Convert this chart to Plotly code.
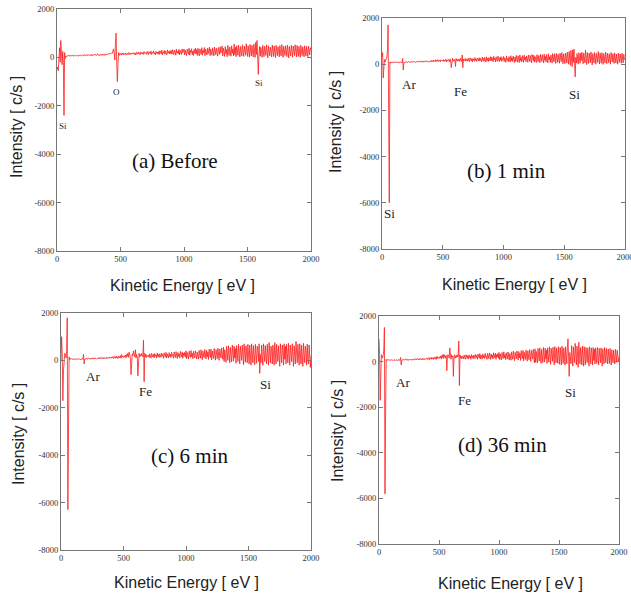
import plotly.graph_objects as go

# ---------------- data ----------------
energy_ev = list(range(0, 2001, 5))

before = [
    -500, -400, -550, 100, 400, -200, 700, 200, -300, 250, -200, -2400, 200, -50, 60, 40, 70, 50, 80, 60,
    75, 55, 90, 60, 80, 95, 50, 70, 85, 60, 75, 100, 65, 80, 55, 90, 70, 85, 60, 95,
    80, 110, 70, 95, 115, 65, 90, 105, 75, 120, 85, 70, 110, 95, 80, 125, 70, 100, 90, 115,
    95, 130, 80, 115, 140, 90, 105, 75, 125, 110, 85, 140, 100, 120, 80, 135, 110, 95, 145, 115,
    120, 150, 135, 170, 140, 160, 190, 170, 230, 350, 180, -100, 500, 1000, -200, -1000, -300, 200, 80, 150,
    120, 170, 100, 150, 190, 110, 160, 130, 180, 95, 150, 175, 120, 200, 140, 110, 185, 130, 165, 145,
    150, 200, 120, 175, 105, 210, 160, 130, 220, 145, 190, 110, 230, 170, 140, 200, 125, 240, 155, 180,
    200, 130, 250, 170, 110, 240, 190, 150, 260, 120, 210, 175, 270, 140, 195, 105, 250, 165, 220, 135,
    240, 120, 280, 190, 150, 300, 100, 230, 170, 290, 130, 260, 200, 110, 310, 180, 240, 140, 280, 160,
    280, 130, 320, 200, 110, 300, 240, 90, 340, 180, 260, 150, 330, 100, 290, 220, 120, 350, 190, 250,
    350, 100, 300, 180, 70, 340, 250, 130, 380, 90, 290, 200, 360, 110, 260, 80, 330, 170, 390, 140,
    320, 80, 380, 200, 60, 350, 260, 120, 400, 90, 300, 180, 410, 70, 340, 240, 100, 380, 150, 300,
    420, 70, 350, 250, 90, 400, 160, 60, 430, 280, 110, 380, 200, 50, 410, 300, 120, 440, 180, 330,
    470, 60, 380, 240, 40, 450, 150, 320, 30, 500, 200, 80, 430, 280, 50, 480, 170, 350, 60, 550,
    100, 420, 30, 480, 260, 80, 500, 160, 20, 450, 300, 60, 520, 180, 40, 470, 230, 90, 560, 150,
    40, 480, 200, 10, 530, 280, 60, 500, 150, 20, 550, 300, 0, 620, 120, 700, 250, -700, 100, 450,
    50, 420, 250, 0, 500, 180, 30, 460, 300, 80, 520, 150, -20, 480, 270, 60, 430, 200, 20, 510,
    300, 40, 470, 180, -10, 500, 230, 70, 440, 320, 20, 490, 160, 60, 530, 250, 0, 460, 200, 80,
    480, 280, 30, 510, 170, -20, 450, 300, 60, 500, 220, 10, 470, 150, 80, 520, 260, 20, 490, 190,
    40, 460, 310, 0, 500, 180, 70, 440, 260, 20, 480, 200, 60, 450, 120, 30, 470, 280, 100, 400,
    300,
]

min1 = [
    300, 500, -600, -200, 200, 100, 150, 250, 300, 600, 1700, -2400, -6000, 100, 40, 90, 70, 100, 60, 80,
    75, 95, 60, 85, 100, 70, 90, 65, 95, 80, 70, 100, 85, 60, 250, -250, 90, 70, 95, 80,
    85, 110, 70, 100, 115, 80, 95, 105, 75, 120, 90, 100, 80, 115, 95, 70, 110, 90, 120, 85,
    100, 135, 90, 120, 145, 95, 110, 130, 85, 140, 105, 120, 150, 95, 125, 100, 140, 115, 90, 135,
    150, 110, 170, 125, 95, 180, 140, 120, 190, 105, 160, 135, 200, 115, 150, 175, 100, 190, 140, 165,
    140, 200, 110, 180, 150, 220, 95, 170, 130, 210, 160, 100, 230, 140, -150, 200, 260, 120, 190, 150,
    210, -100, 240, 160, 130, 230, 150, 200, 120, 260, 170, 120, 400, -150, 230, 140, 200, 250, 130, 210,
    230, 130, 260, 170, 110, 280, 190, 140, 250, 100, 240, 200, 130, 290, 160, 220, 120, 270, 180, 150,
    280, 130, 250, 190, 100, 310, 170, 240, 120, 300, 200, 90, 320, 160, 260, 110, 290, 210, 140, 330,
    150, 300, 240, 100, 340, 180, 260, 90, 320, 200, 130, 350, 230, 110, 290, 170, 330, 120, 250, 190,
    340, 110, 280, 200, 80, 360, 170, 250, 100, 330, 230, 90, 370, 150, 290, 120, 350, 200, 70, 310,
    120, 380, 240, 90, 360, 200, 70, 400, 160, 290, 100, 370, 230, 80, 390, 180, 300, 110, 360, 220,
    80, 400, 260, 120, 380, 190, 60, 420, 230, 140, 390, 90, 330, 200, 70, 410, 270, 110, 380, 160,
    60, 430, 220, 120, 410, 280, 50, 440, 170, 330, 90, 420, 250, 60, 450, 190, 320, 80, 400, 230,
    50, 460, 240, 100, 450, 180, 30, 470, 290, 80, 430, 200, 40, 480, 260, 110, 500, 170, 20, 450,
    300, 30, 480, 200, 60, 520, 250, 0, 550, 150, -50, 600, 300, -100, 620, 80, 650, 200, -550, 300,
    50, 460, 200, 0, 500, 280, 40, 470, 150, 520, 250, 20, 480, 320, 60, 600, 180, -20, 500, 270,
    30, 480, 220, 70, 530, 160, -30, 460, 300, 50, 510, 240, 0, 470, 180, 80, 550, 260, 10, 480,
    200, 40, 500, 290, -10, 460, 170, 60, 520, 250, 20, 480, 310, 70, 450, 150, 0, 500, 230, 90,
    460, 180, 30, 490, 270, 50, 440, 200, 0, 480, 300, 80, 450, 150, 40, 470, 250, 60, 430, 200,
    250,
]

min6 = [
    0, 1000, 300, -1700, -400, 200, 300, 250, 100, 400, 1800, -6300, -2700, 150, 30, 70, 50, 80, 40, 60,
    45, 70, 30, 60, 75, 40, 55, 35, 70, 50, 60, 30, 65, 45, 75, 40, 250, -150, 60, 50,
    60, 95, 50, 80, 100, 65, 85, 45, 90, 70, 105, 55, 80, 95, 60, 100, 75, 50, 90, 85,
    80, 120, 65, 105, 130, 75, 95, 115, 60, 125, 90, 105, 70, 135, 100, 80, 120, 90, 140, 100,
    130, 90, 160, 110, 70, 170, 120, 90, 180, 105, 150, 80, 190, 130, 100, 200, 90, 250, 140, 180,
    120, 190, 150, 230, 100, 250, 170, 300, 130, 350, 200, 120, -600, 150, 280, 200, 400, 250, 150, 450,
    100, 250, 150, -650, 200, 300, 150, 250, 180, 300, 200, 150, 850, -900, 300, 150, 250, 120, 200, 170,
    230, 120, 280, 180, 90, 300, 200, 140, 260, 110, 290, 170, 230, 100, 310, 160, 250, 120, 280, 200,
    130, 310, 180, 250, 90, 320, 200, 140, 340, 110, 280, 220, 100, 330, 160, 260, 120, 350, 190, 240,
    90, 350, 200, 120, 370, 240, 80, 330, 170, 280, 100, 380, 220, 150, 360, 90, 300, 190, 340, 130,
    400, 80, 330, 210, 60, 390, 250, 120, 420, 150, 300, 70, 380, 200, 100, 410, 260, 60, 350, 180,
    50, 420, 270, 90, 450, 180, 30, 400, 300, 110, 460, 200, 60, 430, 150, 350, 40, 470, 250, 120,
    480, 20, 400, 260, 80, 500, 150, 10, 460, 320, 70, 520, 200, 0, 480, 350, 100, 530, 180, 40,
    560, -50, 450, 200, -80, 600, 300, 0, 620, 150, -100, 550, 350, -60, 650, 220, -30, 600, 100, 500,
    -120, 620, 300, -50, 680, 150, -150, 600, 380, 0, 650, 200, -180, 700, 250, -80, 620, 100, -100, 680,
    300, -150, 650, 150, -200, 700, 350, -100, 620, 50, -180, 680, 250, -120, 600, 400, -50, 700, -550, 250,
    -100, 650, 200, -200, 700, 350, -50, 620, 100, -150, 680, 300, -200, 750, 150, -100, 600, 400, -150, 650,
    250, -200, 750, 100, -150, 680, 350, -50, 620, 200, -250, 700, 150, -100, 650, 400, -200, 700, 50, 600,
    -150, 680, 300, -100, 720, 150, -200, 650, 400, -50, 700, 100, -250, 620, 300, -150, 800, 200, -100, 680,
    350, -200, 700, 100, -150, 650, 300, -250, 720, 150, -100, 600, 400, -200, 680, 50, -150, 650, 250, -300,
    200,
]

min36 = [
    1000, 300, -1700, 200, 300, 250, 150, 300, 500, 1500, -5800, -2200, 100, 50, 80, 60, 90, 50, 70, 60,
    60, 80, 50, 75, 55, 85, 65, 45, 80, 60, 70, 50, 85, 60, 75, 55, 180, -150, 70, 60,
    75, 100, 60, 90, 110, 65, 85, 105, 55, 95, 80, 110, 70, 90, 60, 105, 85, 75, 115, 90,
    90, 130, 75, 115, 140, 85, 105, 125, 70, 135, 100, 115, 80, 145, 95, 120, 85, 140, 110, 130,
    140, 95, 170, 120, 80, 180, 130, 100, 190, 115, 160, 90, 200, 140, 110, 210, 100, 230, 150, 180,
    130, 210, 160, 250, 110, 280, 180, 320, 140, 300, 200, 150, 280, -400, 200, 300, 250, 150, 600, 250,
    100, 300, 200, 250, -650, 200, 300, 150, 250, 180, 300, 200, 250, 900, -1050, 300, 150, 250, 120, 200,
    240, 120, 290, 180, 100, 300, 210, 140, 270, 110, 290, 180, 240, 100, 310, 170, 250, 130, 290, 200,
    130, 320, 190, 260, 100, 330, 210, 150, 350, 120, 290, 230, 110, 340, 170, 270, 130, 360, 200, 250,
    100, 360, 210, 130, 380, 250, 90, 340, 180, 290, 110, 390, 230, 160, 370, 100, 310, 200, 350, 140,
    400, 90, 340, 220, 70, 400, 260, 130, 430, 160, 310, 80, 390, 210, 110, 420, 270, 70, 360, 190,
    60, 430, 280, 100, 460, 190, 40, 410, 310, 120, 470, 210, 70, 440, 160, 360, 50, 480, 260, 130,
    490, 30, 410, 270, 90, 510, 160, 20, 470, 330, 80, 530, 210, 10, 490, 360, 110, 540, 190, -50,
    560, -30, 450, 210, -60, 580, 300, 20, 600, 160, -80, 540, 350, -40, 620, 230, -20, 590, 120, 500,
    -80, 600, 300, -30, 650, 160, -120, 580, 370, 10, 630, 210, -150, 660, 260, -60, 600, 110, -80, 650,
    300, -120, 620, 160, -150, 680, 340, -80, 600, 60, -150, 650, 250, -100, 620, 1000, 200, -650, 400, 150,
    -100, 700, 250, -200, 650, 350, -50, 800, 100, -150, 680, 300, -250, 850, 150, -100, 620, 400, -150, 680,
    250, -200, 650, 100, -150, 620, 350, -50, 600, 200, -200, 650, 150, -100, 600, 380, -150, 620, 50, 550,
    -100, 600, 280, -80, 620, 150, -150, 580, 350, -50, 600, 100, -200, 560, 280, -100, 620, 200, -50, 580,
    300, -100, 550, 120, -80, 580, 260, -150, 520, 150, -50, 500, 300, -100, 540, 80, -30, 500, 220, 0,
    200,
]

x_ticks = [0, 500, 1000, 1500, 2000]
x_tick_labels = ["0", "500", "1000", "1500", "2000"]
y_ticks = [-8000, -6000, -4000, -2000, 0, 2000]
y_tick_labels = ["-8000", "-6000", "-4000", "-2000", "0", "2000"]

panel_titles = ["(a) Before", "(b) 1 min", "(c) 6 min", "(d) 36 min"]
x_title = "Kinetic Energy [ eV ]"
y_title = "Intensity [ c/s ]"

# peak labels: (text, energy, intensity) per panel
peak_labels = [
    [("Si", 50, -2850), ("O", 470, -1420), ("Si", 1593, -1050)],
    [("Ar", 219, -890), ("Fe", 644, -1180), ("Si", 1583, -1290), ("Si", 60, -6480)],
    [("Ar", 259, -700), ("Fe", 673, -1330), ("Si", 1634, -1020)],
    [("Ar", 200, -910), ("Fe", 710, -1690), ("Si", 1593, -1370)],
]
title_pos = [(929, -4280), (1022, -4640), (1026, -4030), (1025, -3660)]

series = [before, min1, min6, min36]

# ---------------- layout (pixel geometry) ----------------
W, H = 631, 597
boxes = [(57, 311, 9, 251), (382, 625, 18, 249), (61, 311, 313, 550), (379, 619, 316, 544)]
ytitle_px = [(17, 127), (336, 122), (18, 434), (337, 431)]
xtitle_px = [(183, 285), (514, 284), (186, 582), (510, 583)]

fig = go.Figure()
layout = dict(
    width=W, height=H,
    margin=dict(l=0, r=0, t=0, b=0, autoexpand=False),
    paper_bgcolor="white", plot_bgcolor="white",
    showlegend=False,
    annotations=[],
)

serif = "Liberation Serif, Times New Roman, serif"
sans = "Liberation Sans, Arial, sans-serif"

for i, (ys, box) in enumerate(zip(series, boxes)):
    n = i + 1
    xa = "xaxis" if n == 1 else f"xaxis{n}"
    ya = "yaxis" if n == 1 else f"yaxis{n}"
    xr = "x" if n == 1 else f"x{n}"
    yr = "y" if n == 1 else f"y{n}"
    fig.add_trace(go.Scatter(x=energy_ev, y=ys, mode="lines", xaxis=xr, yaxis=yr,
                             line=dict(color="#ff1a1a", width=0.8)))
    l, r, t, b = box
    common = dict(showline=True, linecolor="#777", linewidth=1, mirror="ticks",
                  ticks="inside", ticklen=4, tickcolor="#777", showgrid=False,
                  zeroline=False, automargin=False, ticklabeloverflow="allow",
                  tickfont=dict(family=serif, size=8.5, color="#333"))
    layout[xa] = dict(domain=[l / W, r / W], range=[0, 2000], anchor=yr,
                      tickmode="array", tickvals=x_ticks, ticktext=x_tick_labels, **common)
    layout[ya] = dict(domain=[1 - b / H, 1 - t / H], range=[-8000, 2000], anchor=xr,
                      tickmode="array", tickvals=y_ticks, ticktext=y_tick_labels, **common)
    yx, yy = ytitle_px[i]
    layout["annotations"].append(dict(text=y_title, xref="paper", yref="paper",
                                      x=yx / W, y=1 - yy / H, showarrow=False, textangle=-90,
                                      font=dict(family=sans, size=16, color="#222"),
                                      xanchor="center", yanchor="middle"))
    xx, xy = xtitle_px[i]
    layout["annotations"].append(dict(text=x_title, xref="paper", yref="paper",
                                      x=xx / W, y=1 - xy / H, showarrow=False,
                                      font=dict(family=sans, size=16, color="#222"),
                                      xanchor="center", yanchor="middle"))
    tx, ty = title_pos[i]
    layout["annotations"].append(dict(text=panel_titles[i], xref=xr, yref=yr, x=tx, y=ty,
                                      showarrow=False, font=dict(family=serif, size=21, color="#111"),
                                      xanchor="center", yanchor="middle"))
    fs = 9 if i == 0 else 13
    for txt, px, py in peak_labels[i]:
        layout["annotations"].append(dict(text=txt, xref=xr, yref=yr, x=px, y=py,
                                          showarrow=False, font=dict(family=serif, size=fs, color="#222"),
                                          xanchor="center", yanchor="middle"))

fig.update_layout(**layout)
fig.write_html("out.html", config={"displayModeBar": False},
               post_script="document.body.style.margin='0';document.body.style.overflow='hidden';")
